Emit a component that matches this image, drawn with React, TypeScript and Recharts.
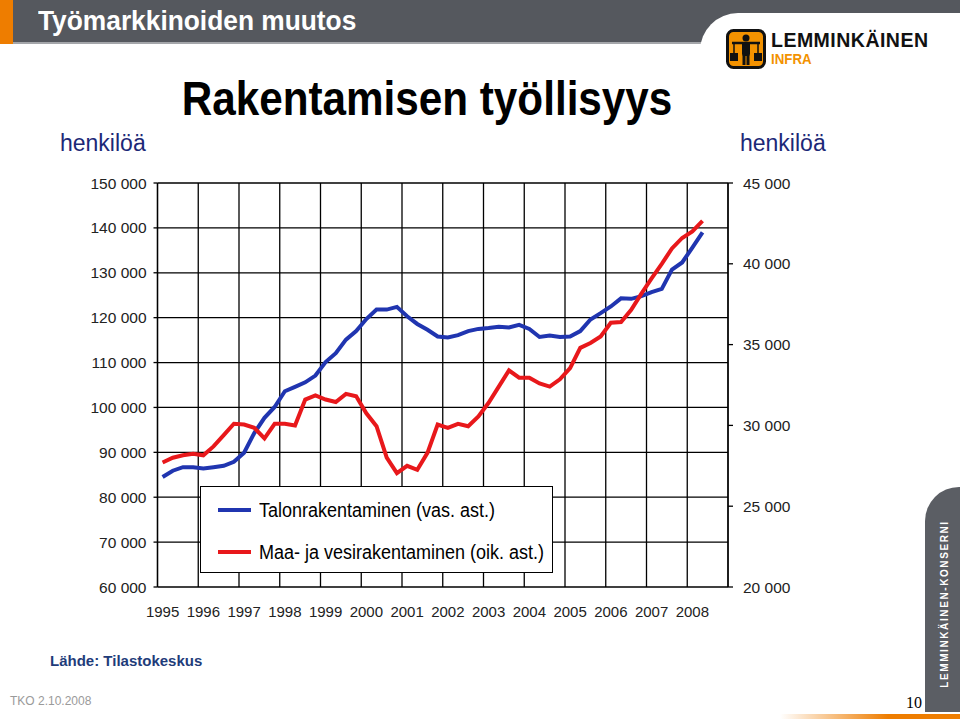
import React from 'react';
import { LineChart, Line, XAxis, YAxis, CartesianGrid, Legend } from 'recharts';

// vuodet (x-akselin otsikot), data neljännesvuosittain 1995Q1 - 2008Q2
const years = [1995, 1996, 1997, 1998, 1999, 2000, 2001, 2002, 2003, 2004, 2005, 2006, 2007, 2008];

// Talonrakentaminen, henkilöä (vasen akseli)
const talonrakentaminen = [
  84500, 85900, 86700, 86700, 86400, 86700, 87000, 87900,
  89900, 94300, 97700, 100100, 103600, 104600, 105600, 107100,
  110100, 112100, 115100, 117000, 119700, 121800, 121800, 122400,
  120300, 118600, 117300, 115800, 115600, 116100, 117000, 117500,
  117700, 118000, 117800, 118400, 117500, 115700, 116000, 115700,
  115800, 117000, 119600, 121000, 122500, 124300, 124200, 124800,
  125700, 126400, 130700, 132300, 135600, 139000,
];

// Maa- ja vesirakentaminen, henkilöä (oikea akseli)
const maaJaVesirakentaminen = [
  27700, 28000, 28150, 28250, 28150, 28700, 29400, 30100,
  30050, 29850, 29200, 30100, 30100, 30000, 31600, 31850,
  31600, 31450, 31950, 31800, 30750, 29950, 28000, 27050,
  27500, 27250, 28300, 30050, 29850, 30100, 29950, 30550,
  31400, 32400, 33400, 32950, 32950, 32600, 32400, 32850,
  33550, 34800, 35100, 35500, 36350, 36400, 37150, 38150,
  39100, 40000, 40950, 41600, 42000, 42650,
];

const seriesNames = ['Talonrakentaminen (vas. ast.)', 'Maa- ja vesirakentaminen (oik. ast.)'];

const leftTicks = [60000, 70000, 80000, 90000, 100000, 110000, 120000, 130000, 140000, 150000];
const rightTicks = [20000, 25000, 30000, 35000, 40000, 45000];

const QUARTERS = 4;
const data = talonrakentaminen.map((v, i) => ({
  q: i + 0.5,
  talo: v,
  maa: maaJaVesirakentaminen[i],
}));
const gridTicks = [...years.map((_, i) => i * QUARTERS), years.length * QUARTERS];
const yearTicks = years.map((_, i) => i * QUARTERS + 0.5);

const fmt = (n: number) => String(n).replace(/\B(?=(\d{3})+(?!\d))/g, ' ');

const renderLegend = (props: any) => {
  const items = [...(props.payload || [])].sort(
    (a: any, b: any) => seriesNames.indexOf(a.value) - seriesNames.indexOf(b.value)
  );
  return (
    <div style={{ width: 351, height: 85, border: '1px solid #000', background: '#fff', position: 'relative' }}>
      {items.map((entry: any, i: number) => (
        <div
          key={entry.value}
          style={{ position: 'absolute', left: 17, top: 11 + i * 42, display: 'flex', alignItems: 'center', height: 24 }}
        >
          <span style={{ display: 'inline-block', width: 33, height: 4, background: entry.color, marginRight: 8 }} />
          <span
            style={{
              fontSize: 20,
              color: '#000',
              whiteSpace: 'nowrap',
              display: 'inline-block',
              transform: 'scaleX(0.9)',
              transformOrigin: 'left center',
            }}
          >
            {entry.value}
          </span>
        </div>
      ))}
    </div>
  );
};

const Logo = () => (
  <div style={{ position: 'absolute', left: 726, top: 29, width: 220, height: 42 }}>
    <svg width={40} height={40} style={{ position: 'absolute', left: 0, top: 0 }}>
      <rect x={1.5} y={1.5} width={37} height={37} rx={6} fill="#f39200" stroke="#111" strokeWidth={3} />
      <circle cx={20} cy={9} r={3.5} fill="#111" />
      <rect x={16} y={13} width={8} height={14} rx={2} fill="#111" />
      <rect x={16.5} y={26} width={3} height={10} fill="#111" />
      <rect x={20.5} y={26} width={3} height={10} fill="#111" />
      <line x1={6} y1={14} x2={34} y2={14} stroke="#111" strokeWidth={2.5} />
      <line x1={8} y1={14} x2={8} y2={24} stroke="#111" strokeWidth={1.5} />
      <line x1={32} y1={14} x2={32} y2={24} stroke="#111" strokeWidth={1.5} />
      <rect x={4} y={24} width={8} height={8} fill="#111" />
      <rect x={28} y={24} width={8} height={8} fill="#111" />
    </svg>
    <div
      style={{
        position: 'absolute', left: 45, top: 2, fontSize: 21, fontWeight: 'bold', color: '#111',
        transform: 'scaleX(0.93)', transformOrigin: 'left top', letterSpacing: 0.5, lineHeight: '18px',
        height: 18, whiteSpace: 'nowrap',
      }}
    >
      LEMMINKÄINEN
    </div>
    <div
      style={{
        position: 'absolute', left: 45, top: 24, fontSize: 14, fontWeight: 'bold', color: '#f39200',
        transform: 'scaleX(0.95)', transformOrigin: 'left top', lineHeight: '12px', height: 12,
      }}
    >
      INFRA
    </div>
  </div>
);

export default function App() {
  return (
    <div
      style={{
        position: 'absolute', left: 0, top: 0, width: 960, height: 720, overflow: 'hidden',
        background: '#fff', fontFamily: '"Liberation Sans", Arial, sans-serif',
      }}
    >
      {/* otsikkopalkki */}
      <div style={{ position: 'absolute', left: 0, top: 0, width: 960, height: 42, background: '#55585e' }} />
      <div style={{ position: 'absolute', left: 0, top: 42, width: 720, height: 2, background: '#a4a6aa' }} />
      <div style={{ position: 'absolute', left: 0, top: 0, width: 13, height: 44, background: '#ee7d00' }} />
      <div
        style={{
          position: 'absolute', left: 700, top: 13, width: 260, height: 70, background: '#fff',
          borderTopLeftRadius: 38,
        }}
      />
      <div
        style={{
          position: 'absolute', left: 38, top: 5, fontSize: 28, fontWeight: 'bold', color: '#fff',
          transform: 'scaleX(0.94)', transformOrigin: 'left top', whiteSpace: 'nowrap',
        }}
      >
        Työmarkkinoiden muutos
      </div>
      <Logo />

      <div
        style={{
          position: 'absolute', left: 427, top: 71, fontSize: 48, fontWeight: 'bold', color: '#000',
          transform: 'translateX(-50%) scaleX(0.88)', whiteSpace: 'nowrap', lineHeight: '56px',
        }}
      >
        Rakentamisen työllisyys
      </div>

      <div style={{ position: 'absolute', left: 60, top: 130, fontSize: 23, color: '#1c2877' }}>henkilöä</div>
      <div style={{ position: 'absolute', left: 740, top: 130, fontSize: 23, color: '#1c2877' }}>henkilöä</div>

      <div style={{ position: 'absolute', left: 0, top: 0 }}>
        <LineChart width={960} height={640} data={data} margin={{ top: 183, right: 152, bottom: 23, left: 77.5 }}>
          <CartesianGrid xAxisId="grid" yAxisId="left" stroke="#000" strokeWidth={1.3} />
          <XAxis
            xAxisId="grid"
            dataKey="q"
            type="number"
            domain={[0, years.length * QUARTERS]}
            ticks={gridTicks}
            interval={0}
            height={0}
            tickSize={5}
            tick={{ fontSize: 0 }}
            tickFormatter={() => ''}
            axisLine={{ stroke: '#000', strokeWidth: 1.3 }}
            tickLine={{ stroke: '#000', strokeWidth: 1.3 }}
          />
          <XAxis
            xAxisId="years"
            dataKey="q"
            type="number"
            domain={[0, years.length * QUARTERS]}
            ticks={yearTicks}
            interval={0}
            height={30}
            axisLine={false}
            tickLine={false}
            tickSize={0}
            tickMargin={19}
            tick={{ fill: '#222', fontSize: 15 }}
            tickFormatter={(v: number) => String(years[Math.floor(v / QUARTERS)])}
          />
          <YAxis
            yAxisId="left"
            orientation="left"
            width={80}
            domain={[60000, 150000]}
            ticks={leftTicks}
            interval={0}
            tickSize={4}
            tickMargin={7}
            tickFormatter={fmt}
            tick={{ fill: '#222', fontSize: 15.5 }}
            axisLine={{ stroke: '#000', strokeWidth: 1.3 }}
            tickLine={{ stroke: '#000', strokeWidth: 1.3 }}
          />
          <YAxis
            yAxisId="right"
            orientation="right"
            width={80}
            domain={[20000, 45000]}
            ticks={rightTicks}
            interval={0}
            tickSize={5}
            tickMargin={10}
            tickFormatter={fmt}
            tick={{ fill: '#222', fontSize: 15.5 }}
            axisLine={{ stroke: '#000', strokeWidth: 1.3 }}
            tickLine={{ stroke: '#000', strokeWidth: 1.3 }}
          />
          <Line
            xAxisId="grid"
            yAxisId="left"
            dataKey="talo"
            name={seriesNames[0]}
            stroke="#2035b0"
            strokeWidth={4}
            dot={false}
            isAnimationActive={false}
          />
          <Line
            xAxisId="grid"
            yAxisId="right"
            dataKey="maa"
            name={seriesNames[1]}
            stroke="#e8181b"
            strokeWidth={4}
            dot={false}
            isAnimationActive={false}
          />
          <Legend
            layout="horizontal"
            verticalAlign="middle"
            align="center"
            content={renderLegend}
            wrapperStyle={{ left: 200, top: 486, width: 353, height: 87 }}
          />
        </LineChart>
      </div>

      <div style={{ position: 'absolute', left: 50, top: 652, fontSize: 15, fontWeight: 'bold', color: '#1f3c7a' }}>
        Lähde: Tilastokeskus
      </div>
      <div style={{ position: 'absolute', left: 10, top: 694, fontSize: 12, color: '#9a9a9a' }}>TKO 2.10.2008</div>

      {/* oikean reunan paneeli */}
      <div
        style={{
          position: 'absolute', left: 925, top: 487, width: 35, height: 225, background: '#5b5e64',
          borderTopLeftRadius: 34,
        }}
      />
      <div
        style={{
          position: 'absolute', left: 944, top: 604, fontSize: 10, fontWeight: 'bold', color: '#fff',
          letterSpacing: 1.6, whiteSpace: 'nowrap', transform: 'translate(-50%, -50%) rotate(-90deg)',
        }}
      >
        LEMMINKÄINEN-KONSERNI
      </div>
      <div
        style={{
          position: 'absolute', left: 780, top: 714, width: 180, height: 5,
          background: 'linear-gradient(to right, rgba(238,125,0,0), #ee7d00 60%)',
        }}
      />
      <div style={{ position: 'absolute', left: 906, top: 694, fontSize: 16, fontFamily: '"Liberation Serif", serif', color: '#000' }}>
        10
      </div>
    </div>
  );
}
